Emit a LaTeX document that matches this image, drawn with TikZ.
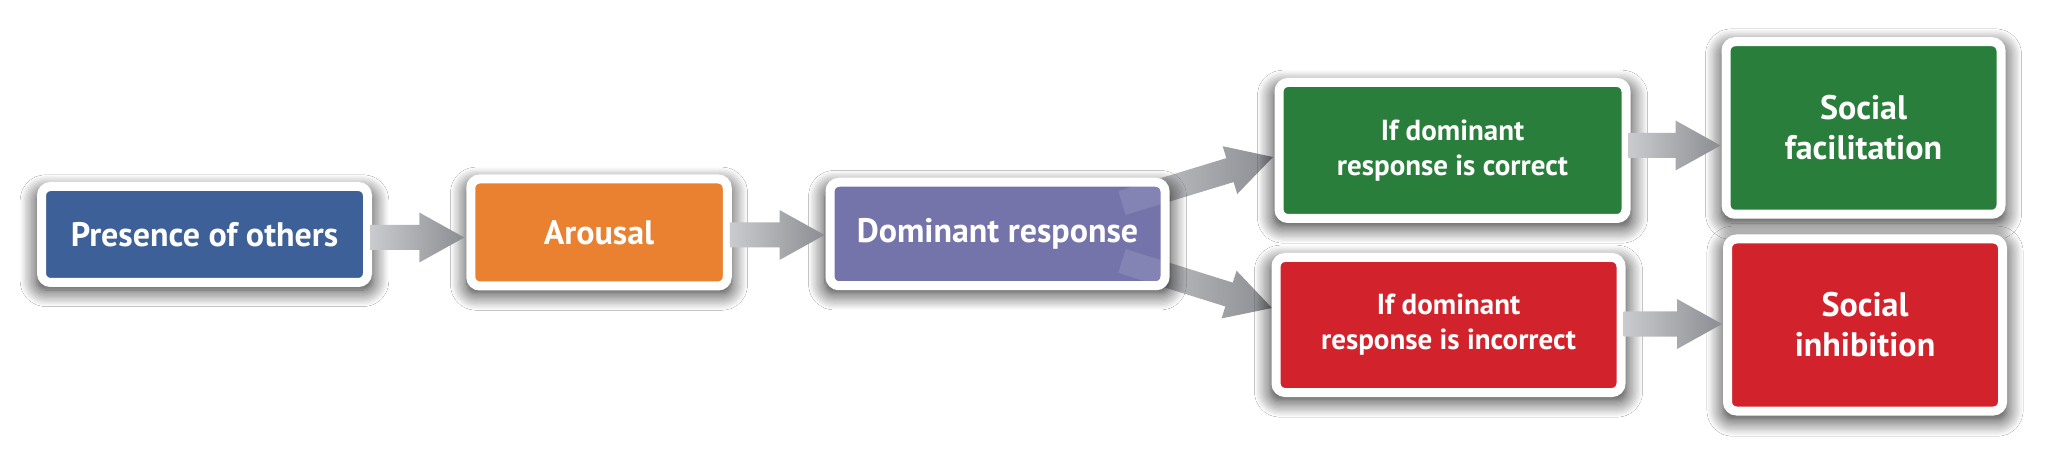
\documentclass[tikz,border=0pt]{standalone}
\usepackage{fontspec}
\setmainfont{PT Sans}
\usetikzlibrary{calc}
\usetikzlibrary{shadows.blur}
\definecolor{othersblue}{RGB}{62,96,152}
\definecolor{arousalorange}{RGB}{234,129,48}
\definecolor{dompurple}{RGB}{116,115,170}
\definecolor{okgreen}{RGB}{42,126,59}
\definecolor{badred}{RGB}{210,35,44}
\definecolor{arrowlight}{RGB}{202,203,206}
\definecolor{arrowdark}{RGB}{140,141,146}
\tikzset{box/.style={rectangle, rounded corners=9pt, draw=white, line width=9pt,
   inner sep=0pt, align=center, text=white,
   font=\bfseries\fontsize{34}{40}\selectfont,
   blur shadow={shadow xshift=0pt, shadow yshift=-6pt, shadow scale=1.03,
      shadow blur radius=16pt, shadow blur steps=14, shadow opacity=85}}}
\tikzset{twoline/.style={font=\bfseries\fontsize{29}{35}\selectfont}}
\tikzset{flow/.style={left color=arrowlight, right color=arrowdark}}
\newcommand{\flowarrow}[3][flow]{%
  \coordinate (neck) at ($(#3)!45pt!(#2)$);
  \path[#1] ($(#2)!12.5pt!90:(#3)$) -- ($(neck)!12.5pt!-90:(#2)$)
     -- ($(neck)!25pt!-90:(#2)$) -- (#3) -- ($(neck)!25pt!90:(#2)$)
     -- ($(neck)!12.5pt!90:(#2)$) -- ($(#2)!12.5pt!-90:(#3)$) -- cycle;
}
\begin{document}
\begin{tikzpicture}[x=1pt, y=-1pt]

    \useasboundingbox[fill=white] (0,0) rectangle (2045,454);

    \coordinate (c-others)    at (204.5,234.5);
    \coordinate (c-arousal)   at (599,232.5);
    \coordinate (c-dominant)  at (997.5,234);
    \coordinate (c-correct)   at (1452.5,150.5);
    \coordinate (c-incorrect) at (1448.5,325);
    \coordinate (c-facil)     at (1863.5,128);
    \coordinate (c-inhib)     at (1865,325);

    % connectors go behind the boxes
    \coordinate (s-up) at ($(c-dominant)+(124.5,-31)$);
    \coordinate (s-dn) at ($(c-dominant)+(124.5,27)$);
    \coordinate (t-up) at (1273,157);
    \coordinate (t-dn) at (1272,308);
    \flowarrow{s-up}{t-up}
    \flowarrow{s-dn}{t-dn}

    \node[box, fill=othersblue, minimum width=326pt, minimum height=96pt] (others) at (c-others) {Presence of others};
    \node[box, fill=arousalorange, minimum width=256.5pt, minimum height=107pt] (arousal) at (c-arousal) {Arousal};
    \node[box, fill=dompurple, minimum width=335pt, minimum height=103.5pt] (dominant) at (c-dominant) {Dominant response};
    \node[box, twoline, fill=okgreen, minimum width=347pt, minimum height=136pt] (correct) at (c-correct) {If dominant\\response is correct};
    \node[box, twoline, fill=badred, minimum width=345pt, minimum height=135pt] (incorrect) at (c-incorrect) {If dominant\\response is incorrect};
    \node[box, fill=okgreen, minimum width=275pt, minimum height=172.5pt] (facil) at (c-facil) {Social\\facilitation};
    \node[box, fill=badred, minimum width=275pt, minimum height=172pt] (inhib) at (c-inhib) {Social\\inhibition};

    \flowarrow{$(others.east)+(-2,3)$}{$(others.east -| arousal.west)+(-2,3)$}
    \flowarrow{$(dominant.west -| arousal.east)+(-2,1)$}{$(dominant.west)+(-1,1)$}
    \flowarrow{$(correct.east)+(-2,-5)$}{$(correct.east -| facil.west)+(-1,-5)$}
    \flowarrow{$(incorrect.east)+(-2,-1)$}{$(incorrect.east -| inhib.west)+(-1,-1)$}

    % light patch where the two branches leave the box
    \begin{scope}
      \clip ($(dominant.north west)+(9,9)$) rectangle ($(dominant.south east)+(-9,-9)$);
      \flowarrow[fill=white, fill opacity=.12]{s-up}{t-up}
      \flowarrow[fill=white, fill opacity=.12]{s-dn}{t-dn}
    \end{scope}

  \end{tikzpicture}
\end{document}
